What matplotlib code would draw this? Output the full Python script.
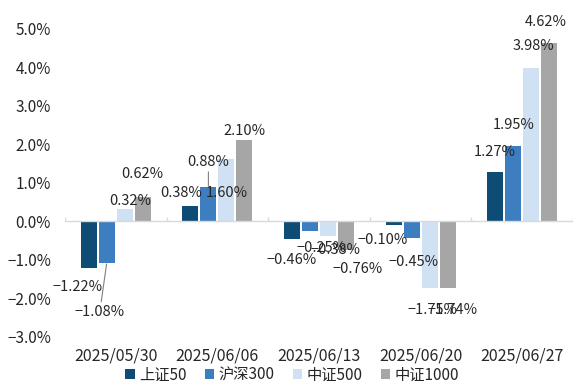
import matplotlib
matplotlib.use("Agg")
import matplotlib.pyplot as plt
import numpy as np

categories = ["2025/05/30", "2025/06/06", "2025/06/13", "2025/06/20", "2025/06/27"]
series_names = ["上证50", "沪深300", "中证500", "中证1000"]
sz50 = [-1.22, 0.38, -0.46, -0.10, 1.27]
hs300 = [-1.08, 0.88, -0.25, -0.45, 1.95]
zz500 = [0.32, 1.60, -0.38, -1.75, 3.98]
zz1000 = [0.62, 2.10, -0.76, -1.74, 4.62]
yticks = [-3, -2, -1, 0, 1, 2, 3, 4, 5]

colors = ["#0E4C75", "#3D7EC1", "#CFE1F3", "#A6A6A6"]

# label offsets in pixels (dx, dy), positive dy = up, relative to bar end
label_offsets = [
    [(-11, -19), (-9, 13), (0, -21), (-11, -15), (0, 20)],
    [(-7, -49), (0, 25), (12, -17), (2, -24), (0, 21)],
    [(5, 8), (0, -34), (8, -14), (3, -22), (2, 22)],
    [(0, 23), (0, 9), (12, -19), (5, -22), (-3, 21)],
]
leader = [
    [False] * 5,
    [True, True, False, False, False],
    [False] * 5,
    [False] * 5,
]

plt.rcParams['font.family'] = ['Noto Sans CJK SC', 'DejaVu Sans']
plt.rcParams['axes.unicode_minus'] = True
txt_color = "#262626"

fig = plt.figure(figsize=(5.79, 3.90), dpi=100)
W, H = 579, 390
ax = fig.add_axes([65 / W, 1 - 336.5 / H, 508 / W, 308 / H])

data = [sz50, hs300, zz500, zz1000]
x = np.arange(len(categories))
step = 0.177
bw = 0.157
for j, (vals, col, name) in enumerate(zip(data, colors, series_names)):
    pos = x + (j - 1.5) * step
    ax.bar(pos, vals, width=bw, color=col, label=name, zorder=3)
    for i, v in enumerate(vals):
        dx, dy = label_offsets[j][i]
        kw = {}
        if leader[j][i]:
            kw['arrowprops'] = dict(arrowstyle='-', color='#7F7F7F', lw=0.8,
                                    shrinkA=0, shrinkB=1)
        ax.annotate(f"{v:.2f}%".replace("-", "\u2212"), xy=(pos[i], v),
                    xytext=(dx, dy), textcoords='offset pixels',
                    ha='center', va='center', fontsize=10.5, color=txt_color,
                    zorder=5, **kw)

ax.set_xlim(-0.5, len(categories) - 0.5)
ax.set_ylim(-3, 5)
ax.set_yticks(yticks)
ax.set_yticklabels([f"{t:.1f}%".replace("-", "\u2212") for t in yticks])
ax.set_xticks(x)
ax.set_xticklabels(categories)
ax.tick_params(axis='both', length=0, labelsize=11, colors=txt_color)
ax.tick_params(axis='x', labelsize=11.5, pad=8)
ax.tick_params(axis='y', pad=10)
for s in ax.spines.values():
    s.set_visible(False)
ax.axhline(0, color='#D9D9D9', lw=1, zorder=4)
bounds = np.arange(len(categories) + 1) - 0.5
ax.vlines(bounds, 0, 0.1, color='#D9D9D9', lw=1, zorder=4)

fig.legend(loc='center', bbox_to_anchor=(292.5 / W, 1 - 375 / H), ncol=4,
           frameon=False, fontsize=11, handlelength=0.6, handleheight=0.6,
           handletextpad=0.3, columnspacing=1.2, labelcolor=txt_color,
           borderpad=0, borderaxespad=0)

fig.savefig("out.png", dpi=100)
